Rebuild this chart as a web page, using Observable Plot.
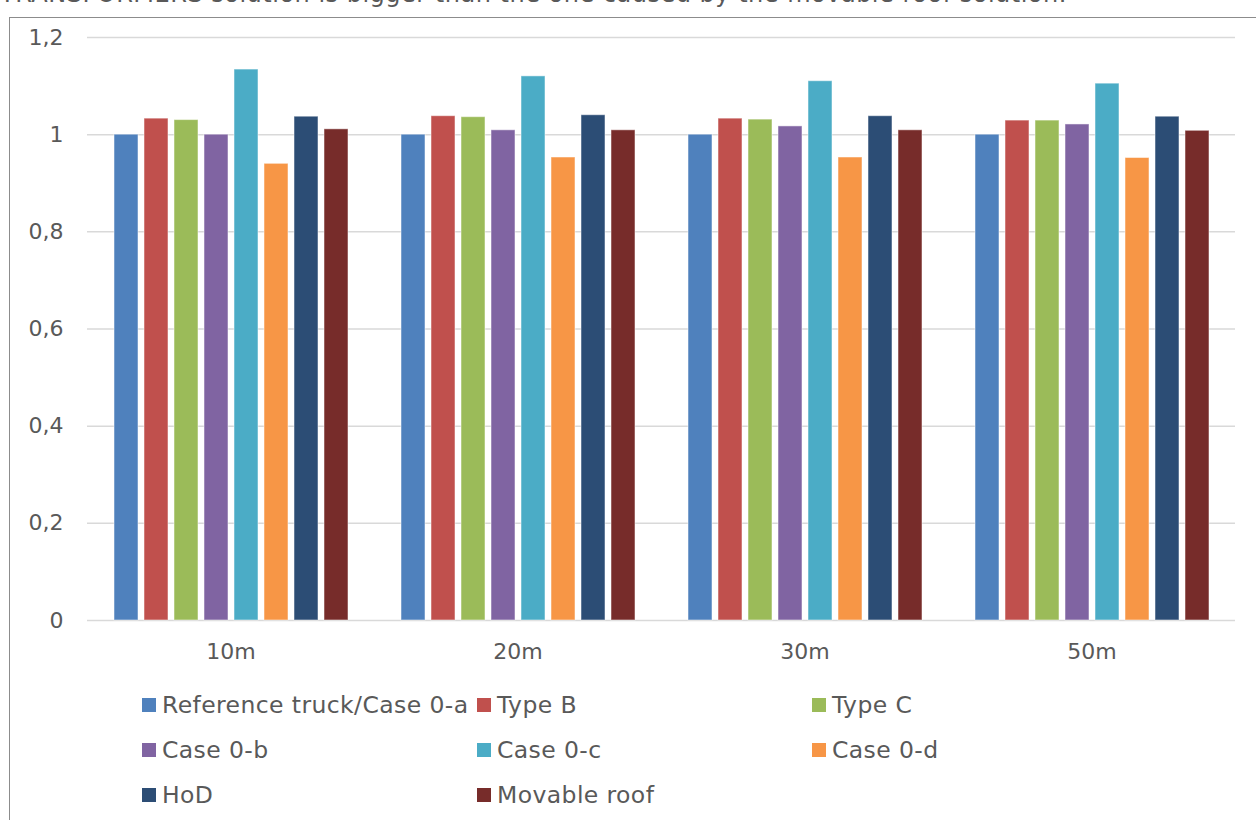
<!DOCTYPE html>
<html>
<head>
<meta charset="utf-8">
<script src="https://cdn.jsdelivr.net/npm/d3@7"></script>
<script src="https://cdn.jsdelivr.net/npm/@observablehq/plot@0.6"></script>
<style>
  html, body { margin: 0; padding: 0; background: #fff; width: 1256px; height: 820px; overflow: hidden; position: relative; font-family: "DejaVu Sans", Verdana, sans-serif; color: #595959; }
  #above { position: absolute; left: 0; top: -20px; font-size: 24px; letter-spacing: 0.5px; color: #595959; white-space: nowrap; }
  #frame { position: absolute; left: 9px; top: 17px; width: 1300px; height: 900px; border: 1px solid #8c8c8c; box-sizing: border-box; }
  #chart { position: absolute; left: 10px; top: 18px; }
  #legend { position: absolute; left: 0; top: 0; font-size: 23.5px; letter-spacing: 0.4px; color: #595959; }
  .item { position: absolute; display: flex; align-items: center; white-space: nowrap; height: 28px; }
  .sw { width: 14px; height: 14px; margin-right: 6px; }
</style>
</head>
<body>
<div id="above">TRANSFORMERS solution is bigger than the one caused by the movable roof solution.</div>
<div id="frame"></div>
<div id="chart"></div>
<div id="legend"></div>
<script>
const groups = ["10m", "20m", "30m", "50m"];
const series = ["Reference truck/Case 0-a", "Type B", "Type C", "Case 0-b", "Case 0-c", "Case 0-d", "HoD", "Movable roof"];
const colors = ["#4F81BD", "#C0504D", "#9BBB59", "#8064A2", "#4BACC6", "#F79646", "#2C4D75", "#772C2A"];
const values10m = [1.000, 1.033, 1.030, 1.000, 1.134, 0.940, 1.037, 1.011];
const values20m = [1.000, 1.038, 1.036, 1.009, 1.120, 0.953, 1.040, 1.009];
const values30m = [1.000, 1.033, 1.031, 1.017, 1.110, 0.953, 1.038, 1.009];
const values50m = [1.000, 1.029, 1.029, 1.021, 1.105, 0.952, 1.037, 1.008];
const yTicks = [0, 0.2, 0.4, 0.6, 0.8, 1.0, 1.2];

const valueSets = [values10m, values20m, values30m, values50m];
const data = [];
groups.forEach((g, gi) => series.forEach((s, si) => data.push({group: g, series: s, value: valueSets[gi][si]})));

const fmt = d => String(d).replace(".", ",");

const chart = Plot.plot({
  width: 1246,
  height: 660,
  marginLeft: 77,
  marginRight: 21,
  marginTop: 19,
  marginBottom: 58,
  style: { fontFamily: "DejaVu Sans, Verdana, sans-serif", fontSize: "22px", color: "#595959", background: "transparent" },
  fx: { domain: groups, padding: 0, axis: "bottom", tickSize: 0, tickPadding: 23, label: null },
  x: { domain: series, axis: null, paddingInner: 0.2, paddingOuter: 0.88 },
  y: { domain: [0, 1.2], ticks: yTicks, tickFormat: fmt, tickSize: 0, tickPadding: 24, label: null },
  color: { domain: series, range: colors },
  marks: [
    Plot.ruleY(yTicks, { stroke: "#d9d9d9", strokeWidth: 1.5 }),
    Plot.barY(data, { fx: "group", x: "series", y: "value", fill: "series", stroke: "white", strokeWidth: 1, strokeOpacity: 0.5 })
  ]
});
document.getElementById("chart").appendChild(chart);

// legend
const legend = document.getElementById("legend");
const colX = [142, 477, 812];
const rowY = [691, 736, 781];
series.forEach((s, i) => {
  const item = document.createElement("div");
  item.className = "item";
  item.style.left = colX[i % 3] + "px";
  item.style.top = rowY[Math.floor(i / 3)] + "px";
  const sw = document.createElement("div");
  sw.className = "sw";
  sw.style.background = colors[i];
  const t = document.createElement("span");
  t.textContent = s;
  item.appendChild(sw);
  item.appendChild(t);
  legend.appendChild(item);
});
</script>
</body>
</html>
